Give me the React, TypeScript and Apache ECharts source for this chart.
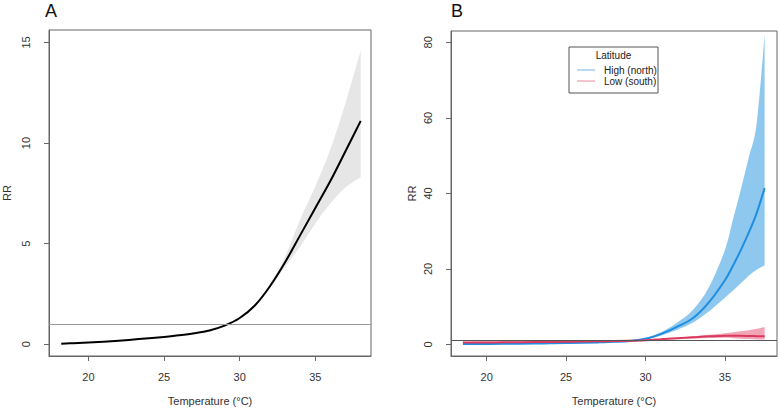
import React, { useEffect, useRef } from "react";
import * as echarts from "echarts";

// Panel A: pooled relative risk by temperature
const tempA = [18.2, 19, 20, 21, 22, 23, 24, 25, 26, 27, 28, 29, 30, 31, 32, 33, 34, 35, 36, 37, 38];
const rrA = [0.02, 0.05, 0.08, 0.12, 0.17, 0.23, 0.29, 0.36, 0.44, 0.54, 0.68, 0.92, 1.3, 1.92, 2.88, 4.07, 5.42, 6.77, 8.12, 9.6, 11.1];
const upperA = [0.03, 0.06, 0.09, 0.13, 0.18, 0.24, 0.3, 0.37, 0.46, 0.56, 0.7, 0.95, 1.34, 1.98, 2.98, 4.35, 6.2, 7.85, 9.7, 12.0, 14.6];
const lowerA = [0.01, 0.04, 0.07, 0.11, 0.16, 0.22, 0.28, 0.35, 0.42, 0.52, 0.66, 0.89, 1.26, 1.86, 2.8, 3.85, 4.85, 6.0, 7.0, 7.8, 8.3];

// Panel B: relative risk by latitude group
const tempB = [18.5, 19, 20, 21, 22, 23, 24, 25, 26, 27, 28, 29, 30, 31, 32, 33, 34, 35, 35.5, 36, 36.5, 37, 37.5];
const highRR = [0.12, 0.13, 0.15, 0.18, 0.21, 0.25, 0.3, 0.36, 0.44, 0.55, 0.7, 0.95, 1.5, 2.8, 4.7, 7.0, 11.2, 17.0, 20.8, 25.0, 29.6, 34.8, 41.4];
const highUpper = [0.2, 0.2, 0.22, 0.25, 0.28, 0.32, 0.37, 0.43, 0.51, 0.62, 0.78, 1.05, 1.7, 3.3, 5.8, 9.2, 15.2, 25.0, 33.0, 41.0, 49.5, 58.5, 82.0];
const highLower = [0.06, 0.07, 0.09, 0.12, 0.15, 0.19, 0.24, 0.3, 0.38, 0.49, 0.63, 0.86, 1.35, 2.4, 3.9, 5.8, 8.8, 12.4, 14.2, 16.2, 18.2, 19.8, 20.9];
const lowRR = [0.5, 0.51, 0.54, 0.57, 0.6, 0.64, 0.68, 0.73, 0.78, 0.84, 0.9, 1.0, 1.15, 1.4, 1.65, 1.9, 2.15, 2.3, 2.33, 2.3, 2.25, 2.2, 2.15];
const lowUpper = [0.75, 0.75, 0.77, 0.79, 0.81, 0.84, 0.87, 0.9, 0.93, 0.96, 1.0, 1.05, 1.22, 1.55, 1.85, 2.2, 2.55, 3.0, 3.25, 3.5, 3.8, 4.15, 4.6];
const lowLower = [0.3, 0.31, 0.33, 0.36, 0.4, 0.45, 0.5, 0.56, 0.63, 0.72, 0.8, 0.95, 1.08, 1.28, 1.45, 1.6, 1.7, 1.75, 1.65, 1.55, 1.45, 1.35, 1.3];

const ticksXA = [20, 25, 30, 35];
const ticksYA = [0, 5, 10, 15];
const ticksXB = [20, 25, 30, 35];
const ticksYB = [0, 20, 40, 60, 80];

const legendTitle = "Latitude";
const legendNames = ["High (north)", "Low (south)"];

const FONT = "Liberation Sans, Arial, sans-serif";
const BLUE = "#1f8de0";
const BLUE_BAND = "#8fc8ef";
const RED = "#d93a5e";
const RED_BAND = "#f0a6b7";

// Catmull-Rom spline through pixel points, as SVG cubic segments
function splineSegments(pts: number[][]): string {
  let d = "";
  for (let i = 0; i < pts.length - 1; i++) {
    const p0 = pts[Math.max(i - 1, 0)];
    const p1 = pts[i];
    const p2 = pts[i + 1];
    const p3 = pts[Math.min(i + 2, pts.length - 1)];
    const c1x = p1[0] + (p2[0] - p0[0]) / 6;
    const c1y = p1[1] + (p2[1] - p0[1]) / 6;
    const c2x = p2[0] - (p3[0] - p1[0]) / 6;
    const c2y = p2[1] - (p3[1] - p1[1]) / 6;
    d += ` C${c1x},${c1y} ${c2x},${c2y} ${p2[0]},${p2[1]}`;
  }
  return d;
}

// Confidence band: smooth upper edge, straight end, smooth lower edge back
function bandSeries(idx: number, xs: number[], up: number[], lo: number[], color: string, z: number) {
  return {
    type: "custom",
    xAxisIndex: idx,
    yAxisIndex: idx,
    data: [0],
    z,
    silent: true,
    renderItem: (_p: any, api: any) => {
      const top = xs.map((x, i) => api.coord([x, up[i]]));
      const bot = xs.map((x, i) => api.coord([x, lo[i]])).reverse();
      const d =
        `M${top[0][0]},${top[0][1]}` +
        splineSegments(top) +
        ` L${bot[0][0]},${bot[0][1]}` +
        splineSegments(bot) +
        " Z";
      return { type: "path", shape: { pathData: d }, style: { fill: color, stroke: null } };
    },
  };
}

// Smooth curve drawn with the same spline as the bands
function curveSeries(idx: number, xs: number[], ys: number[], color: string, z: number, extra: any = {}) {
  return {
    type: "custom",
    xAxisIndex: idx,
    yAxisIndex: idx,
    data: [0],
    z,
    silent: true,
    renderItem: (_p: any, api: any) => {
      const pts = xs.map((x, i) => api.coord([x, ys[i]]));
      const d = `M${pts[0][0]},${pts[0][1]}` + splineSegments(pts);
      return { type: "path", shape: { pathData: d }, style: { fill: null, stroke: color, lineWidth: 2 } };
    },
    ...extra,
  };
}

function xAxis(gridIndex: number, min: number, max: number, ticks: number[]) {
  return {
    type: "value",
    gridIndex,
    min,
    max,
    name: "Temperature (°C)",
    nameLocation: "middle",
    nameGap: 39,
    nameTextStyle: { fontFamily: FONT, fontSize: 11, color: "#333" },
    axisLine: { show: true, onZero: false, lineStyle: { color: "#666", width: 1 } },
    axisTick: { show: true, length: 5, inside: false, customValues: ticks, lineStyle: { color: "#666" } },
    axisLabel: { customValues: ticks, margin: 15, fontFamily: FONT, fontSize: 11, color: "#333" },
    splitLine: { show: false },
  };
}

function yAxis(gridIndex: number, min: number, max: number, ticks: number[], gap: number, margin: number) {
  return {
    type: "value",
    gridIndex,
    min,
    max,
    name: "RR",
    nameLocation: "middle",
    nameGap: gap,
    nameRotate: 90,
    nameTextStyle: { fontFamily: FONT, fontSize: 11, color: "#333" },
    axisLine: { show: true, onZero: false, lineStyle: { color: "#666", width: 1 } },
    axisTick: { show: true, length: 5, inside: false, customValues: ticks, lineStyle: { color: "#666" } },
    axisLabel: { customValues: ticks, rotate: 90, margin, fontFamily: FONT, fontSize: 11, color: "#333" },
    splitLine: { show: false },
  };
}

export default function App() {
  const ref = useRef<HTMLDivElement>(null);

  useEffect(() => {
    document.body.style.margin = "0";
    if (!ref.current) return;
    const chart = echarts.init(ref.current, null, { renderer: "svg" });

    const refLine = (color: string) => ({
      silent: true,
      symbol: "none",
      label: { show: false },
      lineStyle: { color, width: 1.2, type: "solid" },
      data: [{ yAxis: 1 }],
    });

    const lx = 569;
    const ly = 47;
    chart.setOption({
      animation: false,
      backgroundColor: "#fff",
      grid: [
        { left: 45, top: 30, width: 326, height: 330, show: true, borderColor: "#666", borderWidth: 1, backgroundColor: "transparent" },
        { left: 451, top: 31, width: 326, height: 329, show: true, borderColor: "#666", borderWidth: 1, backgroundColor: "transparent" },
      ],
      xAxis: [xAxis(0, 17.39, 38.68, ticksXA), xAxis(1, 17.75, 38.28, ticksXB)],
      yAxis: [yAxis(0, -0.59, 15.62, ticksYA, 37, 18), yAxis(1, -3.05, 83.0, ticksYB, 34, 18)],
      series: [
        bandSeries(0, tempA, upperA, lowerA, "#e6e6e6", 1),
        curveSeries(0, tempA, rrA, "#000", 3),
        {
          type: "line",
          xAxisIndex: 0,
          yAxisIndex: 0,
          data: [],
          z: 2,
          markLine: refLine("#999"),
        },
        bandSeries(1, tempB, highUpper, highLower, BLUE_BAND, 1),
        bandSeries(1, tempB, lowUpper, lowLower, RED_BAND, 2),
        curveSeries(1, tempB, highRR, BLUE, 3, { name: legendNames[0] }),
        curveSeries(1, tempB, lowRR, RED, 4, { name: legendNames[1] }),
        {
          type: "line",
          xAxisIndex: 1,
          yAxisIndex: 1,
          data: [],
          z: 5,
          markLine: refLine("#555"),
        },
      ],
      graphic: [
        { type: "text", left: 45, top: 2, style: { text: "A", fontFamily: FONT, fontSize: 18, fill: "#111" } },
        { type: "text", left: 451, top: 2, style: { text: "B", fontFamily: FONT, fontSize: 18, fill: "#111" } },
        { type: "rect", shape: { x: lx, y: ly, width: 89, height: 46 }, style: { fill: "#fff", stroke: "#555", lineWidth: 1 }, z: 100 },
        { type: "text", x: lx + 44.5, y: ly + 8, style: { text: legendTitle, fontFamily: FONT, fontSize: 10, fill: "#222", align: "center", verticalAlign: "middle" }, z: 101 },
        { type: "line", shape: { x1: lx + 8, y1: ly + 23, x2: lx + 26, y2: ly + 23 }, style: { stroke: "#6fb3ea", lineWidth: 1 }, z: 101 },
        { type: "line", shape: { x1: lx + 8, y1: ly + 34, x2: lx + 26, y2: ly + 34 }, style: { stroke: "#e88aa2", lineWidth: 1 }, z: 101 },
        { type: "text", x: lx + 35, y: ly + 23, style: { text: legendNames[0], fontFamily: FONT, fontSize: 10, fill: "#222", verticalAlign: "middle" }, z: 101 },
        { type: "text", x: lx + 35, y: ly + 34, style: { text: legendNames[1], fontFamily: FONT, fontSize: 10, fill: "#222", verticalAlign: "middle" }, z: 101 },
      ],
    });

    return () => chart.dispose();
  }, []);

  return <div ref={ref} style={{ width: 780, height: 411 }} />;
}
